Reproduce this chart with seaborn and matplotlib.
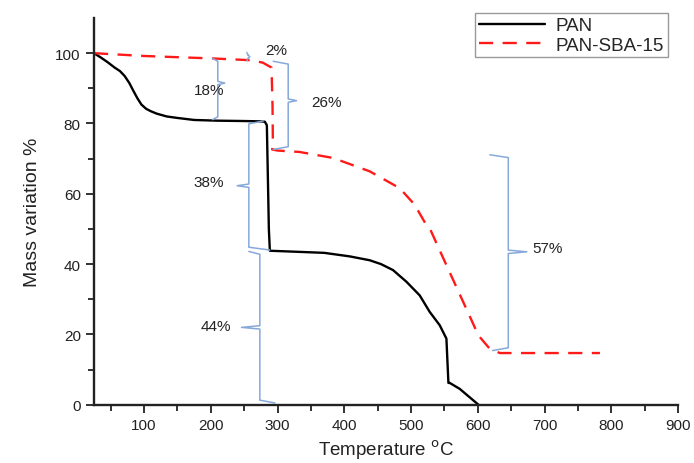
import matplotlib
matplotlib.use("Agg")
import matplotlib.pyplot as plt
import seaborn as sns
import numpy as np
import pandas as pd

# ---- data ----
pan_temp = [25, 35, 45, 56, 64, 71, 78, 84, 90, 96, 103, 110, 119, 134, 149, 175, 210, 250, 275, 281, 284, 286, 287, 288.5,
            330, 370, 408, 438, 455, 473, 493, 513, 528, 543, 553, 556, 558, 573, 601]
pan_mass = [100, 98.8, 97.5, 95.9, 94.9, 93.5, 91.5, 89.3, 87.2, 85.4, 84.2, 83.5, 82.8, 82.0, 81.6, 81.0, 80.8, 80.7, 80.6, 80.5, 79.5, 60, 50, 43.8,
            43.5, 43.2, 42.2, 41.1, 40.0, 38.3, 35.0, 31.1, 26.4, 22.6, 18.8, 6.2, 6.2, 4.5, 0]

sba_temp = [25, 100, 203, 260, 278, 291, 292.5, 293, 292, 300, 333, 383, 438, 483, 505, 523, 528, 553, 578, 601, 618, 633, 700, 783]
sba_mass = [100, 99.2, 98.5, 98.0, 97.3, 95.9, 85, 75, 72.6, 72.3, 71.9, 70.2, 66.4, 61.6, 57.0, 51.1, 50.2, 39.7, 29.3, 19.7, 15.9, 14.7, 14.7, 14.7]

series_names = ["PAN", "PAN-SBA-15"]
brace_labels = ["18%", "2%", "26%", "38%", "44%", "57%"]

sns.set_theme(style="ticks")
plt.rcParams['font.family'] = ['Liberation Sans', 'DejaVu Sans']

fig = plt.figure(figsize=(6.94, 4.64), dpi=100)
ax = fig.add_axes([0.1354, 0.1256, 0.977 - 0.1354, 0.959 - 0.1256])

df_pan = pd.DataFrame({"T": pan_temp, "M": pan_mass})
df_sba = pd.DataFrame({"T": sba_temp, "M": sba_mass})

sns.lineplot(data=df_pan, x="T", y="M", sort=False, estimator=None, color="black",
             linewidth=1.7, ax=ax, label=series_names[0])
sns.lineplot(data=df_sba, x="T", y="M", sort=False, estimator=None, color="#ff1a1a",
             linewidth=1.7, ax=ax, label=series_names[1], dashes=False)
ax.lines[1].set_dashes((6, 4))

# ---- braces (annotations) ----
bcol = "#86a9da"

def brace(x, y_top, y_bot, tip_x, hook_top, hook_bot, y_mid=None):
    if y_mid is None:
        y_mid = (y_top + y_bot) / 2
    d = 0.8
    xs = [hook_top, x, x, tip_x, x, x, hook_bot]
    ys = [y_top, y_top - d, y_mid + d * 0.6, y_mid, y_mid - d * 0.6, y_bot + d, y_bot]
    ax.plot(xs, ys, color=bcol, linewidth=1.1, solid_joinstyle="round")

brace(210.5, 98.5, 81.1, 221, 202.6, 202.6, 91.5)      # 18%
brace(256, 100.2, 97.8, 258.5, 254, 254)               # 2%
brace(316, 97.7, 72.6, 328.5, 293.5, 293.5, 86.5)      # 26%
brace(257, 80.7, 44.0, 239.5, 278.5, 288.5, 62.3)      # 38%
brace(273.5, 43.6, 0.5, 246, 257, 296, 22.0)           # 44%
brace(645.7, 71.1, 15.4, 673.5, 618, 622, 43.5)        # 57%

fs = 11
tc = "#222222"
ax.text(198, 89.6, brace_labels[0], ha="center", va="center", fontsize=fs, color=tc)
ax.text(298, 101.0, brace_labels[1], ha="center", va="center", fontsize=fs, color=tc)
ax.text(350, 86.1, brace_labels[2], ha="left", va="center", fontsize=fs, color=tc)
ax.text(197, 63.4, brace_labels[3], ha="center", va="center", fontsize=fs, color=tc)
ax.text(208, 22.3, brace_labels[4], ha="center", va="center", fontsize=fs, color=tc)
ax.text(682, 44.7, brace_labels[5], ha="left", va="center", fontsize=fs, color=tc)

# ---- axes styling ----
ax.set_xlim(25, 900)
ax.set_ylim(0, 110)
ax.set_xticks([100, 200, 300, 400, 500, 600, 700, 800, 900])
ax.set_xticks(np.arange(50, 900, 100), minor=True)
ax.set_yticks([0, 20, 40, 60, 80, 100])
ax.set_yticks([10, 30, 50, 70, 90], minor=True)
ax.tick_params(axis="both", which="major", length=6, width=1.3, labelsize=11, colors=tc, direction="out")
ax.tick_params(axis="both", which="minor", length=4, width=1.3, direction="out", colors=tc)
sns.despine(ax=ax)
for sp in ["left", "bottom"]:
    ax.spines[sp].set_linewidth(1.7)
    ax.spines[sp].set_color(tc)

ax.set_xlabel("Temperature $^{\\mathrm{o}}$C", fontsize=13.5, labelpad=4, color=tc)
ax.set_ylabel("Mass variation %", fontsize=14, labelpad=10, color=tc)

leg = ax.legend(loc="upper right", bbox_to_anchor=(0.983, 1.012), borderaxespad=0,
                fontsize=13.5, handlelength=3.5, fancybox=False, frameon=True,
                edgecolor="#999999", framealpha=1, borderpad=0.2, labelspacing=0.12,
                handletextpad=0.6)
leg.get_frame().set_linewidth(1.0)
for h in leg.get_lines():
    h.set_linewidth(1.7)
leg.get_lines()[1].set_dashes((6, 4))

fig.savefig("out.png", dpi=100)
